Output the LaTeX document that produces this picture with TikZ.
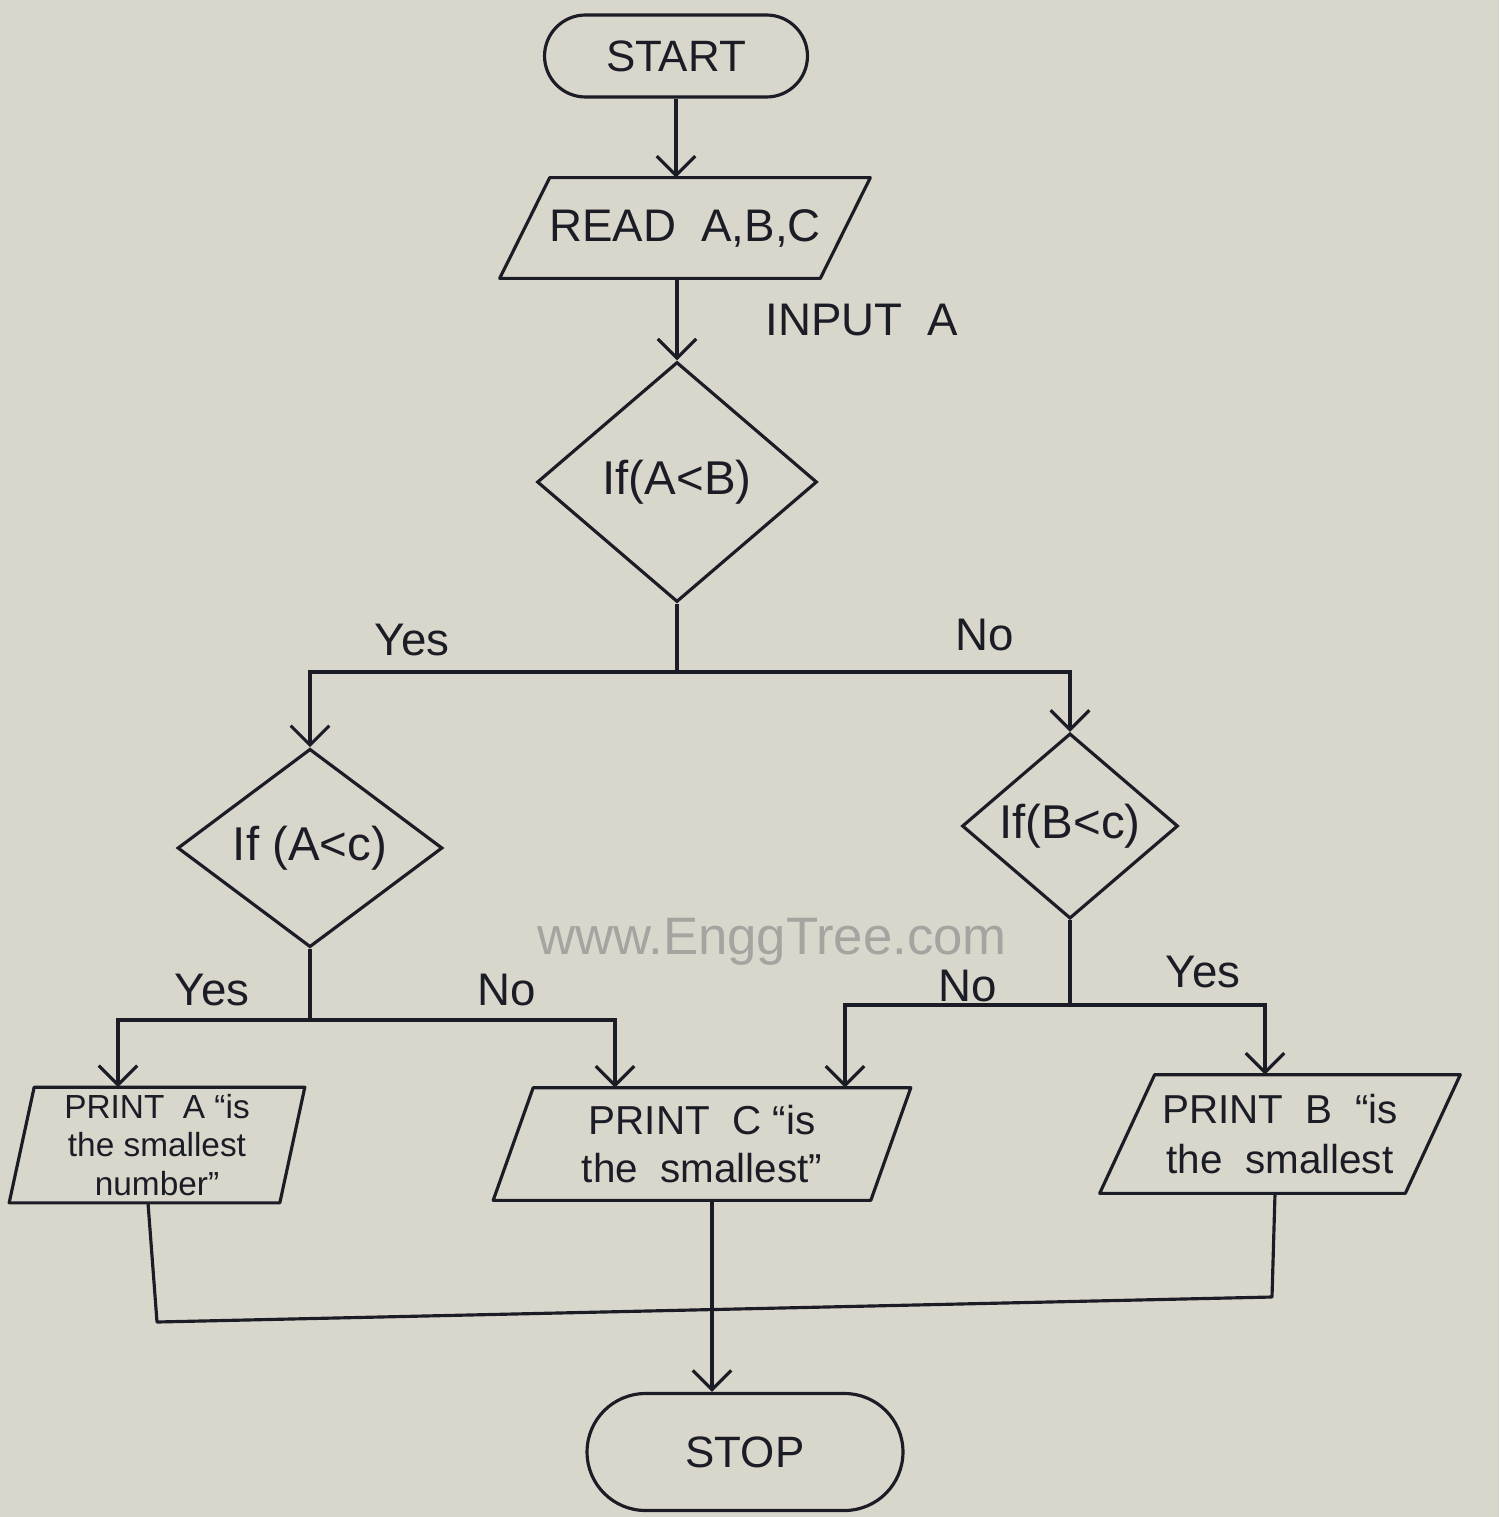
\documentclass[tikz,border=0pt]{standalone}
\usepackage{fontspec}
\setmainfont{Liberation Sans}
\usetikzlibrary{shapes.geometric,shapes.misc,arrows.meta,calc}
\definecolor{paper}{RGB}{217,215,203}
\definecolor{ink}{RGB}{28,28,38}
\definecolor{mark}{RGB}{165,164,160}
% outline of a slanted input/output box around a named text node;
% #1 = node name, #2 = horizontal slant of the sides (in picture units)
\newcommand\slantbox[2]{%
  \draw[link, line join=round]
    ($(#1.north west)+(#2/2,0)$) -- ($(#1.north east)+(#2/2,0)$) --
    ($(#1.south east)-(#2/2,0)$) -- ($(#1.south west)-(#2/2,0)$) -- cycle;}
\begin{document}
\begin{tikzpicture}[x=0.02cm,y=-0.02cm,
  flow/.style={draw=ink, line width=1.8pt, text=ink, align=center, inner sep=0pt},
  terminal/.style={flow, rounded rectangle, font=\fontsize{25}{30}\selectfont},
  io/.style={rectangle, text=ink, align=center, inner sep=0pt},
  decision/.style={flow, diamond, font=\fontsize{27}{32}\selectfont},
  link/.style={draw=ink, line width=1.8pt},
  arrowlink/.style={link, -{Straight Barb[length=11pt,width=22pt]}},
  lbl/.style={text=ink, font=\fontsize{26}{30}\selectfont},
  wmark/.style={text=mark, font=\fontsize{30}{34}\selectfont}
]
% paper
\fill[paper] (0,0) rectangle (1499,1517);
\useasboundingbox (0,0) rectangle (1499,1517);

% shapes
\node[terminal, minimum width=5.26cm, minimum height=1.64cm] (start) at (676,56) {START};
\node[io, minimum width=6.4cm, minimum height=2.0cm,
      font=\fontsize{26}{30}\selectfont] (read) at (685,228) {READ\ \ A,B,C};
\slantbox{read}{50}
\node[decision, minimum width=5.6cm, minimum height=4.8cm] (d1) at (677,482) {If(A<B)};
\node[decision, minimum width=5.3cm, minimum height=3.8cm] (d2) at (310,848) {If (A<c)};
\node[decision, minimum width=4.32cm, minimum height=3.7cm] (d3) at (1070,826) {If(B<c)};
\node[io, minimum width=5.4cm, minimum height=2.3cm,
      font=\fontsize{19}{22}\selectfont] (pa) at (157,1145)
      {PRINT\ \ A “is\\the smallest\\number”};
\slantbox{pa}{25}
\node[io, minimum width=7.54cm, minimum height=2.24cm,
      font=\fontsize{23}{27}\selectfont] (pc) at (702,1144)
      {PRINT\ \ C “is\\the\ \ smallest”};
\slantbox{pc}{40}
\node[io, minimum width=6.1cm, minimum height=2.36cm,
      font=\fontsize{23}{28}\selectfont] (pb) at (1280,1134)
      {PRINT\ \ B\ \ “is\\the\ \ smallest};
\slantbox{pb}{55}
\node[terminal, minimum width=6.32cm, minimum height=2.34cm] (stop) at (745,1452) {STOP};

% labels
\node[lbl] (lin) at (862,320) {INPUT\ \ A};
\node[lbl] (ly1) at (412,640) {Yes};
\node[lbl] (ln1) at (985,635) {No};
\node[lbl] (ly2) at (212,990) {Yes};
\node[lbl] (ln2) at (507,990) {No};
\node[lbl] (ln3) at (968,986) {No};
\node[lbl] (ly3) at (1203,972) {Yes};
\node[wmark] (wm) at (772,942) {www.EnggTree.com};

% branch, merge and port points
\coordinate (s1) at (d1.south |- 0,672);
\coordinate (s2) at (d2.south |- 0,1020);
\coordinate (s3) at (d3.south |- 0,1005);
\coordinate (mL) at (157,1322);
\coordinate (mR) at (1272,1297);
\coordinate (paIn)  at ($(pa.north)+(-39,0)$);
\coordinate (paOut) at ($(pa.south)+(-9,0)$);
\coordinate (pcInL) at ($(pc.north)+(-87,0)$);
\coordinate (pcInR) at ($(pc.north)+(143,0)$);
\coordinate (pcOut) at ($(pc.south)+(10,0)$);
\coordinate (pbIn)  at ($(pb.north)+(-15,0)$);
\coordinate (pbOut) at ($(pb.south)+(-5,0)$);

% connectors
\draw[arrowlink] (start.south) -- (start.south |- read.north);
\draw[arrowlink] (d1.north |- read.south) -- (d1.north);
\draw[link] (d1.south) -- (s1);
\draw[arrowlink] (s1) -| (d2.north);
\draw[arrowlink] (s1) -| (d3.north);
\draw[link] (d2.south) -- (s2);
\draw[arrowlink] (s2) -| (paIn);
\draw[arrowlink] (s2) -| (pcInL);
\draw[link] (d3.south) -- (s3);
\draw[arrowlink] (s3) -| (pcInR);
\draw[arrowlink] (s3) -| (pbIn);
\draw[link, line join=round] (paOut) -- (mL) -- (mR) -- (pbOut);
\draw[arrowlink] (pcOut) -- (pcOut |- stop.north);
\end{tikzpicture}
\end{document}
